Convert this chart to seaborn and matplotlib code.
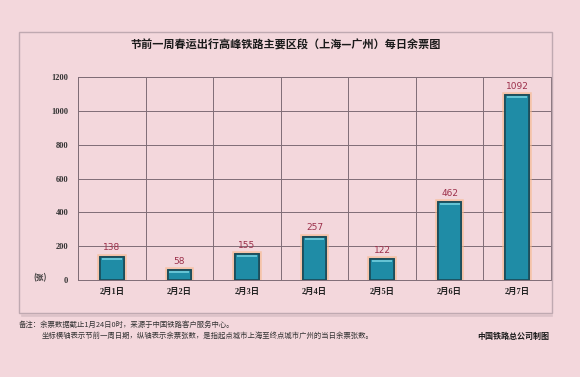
import numpy as np
import pandas as pd
import matplotlib
matplotlib.use("Agg")
import matplotlib.pyplot as plt
import matplotlib.patheffects as pe
from matplotlib.patches import Rectangle
from matplotlib.ticker import FixedLocator
import seaborn as sns

# ---- data ----
dates = ["2月1日", "2月2日", "2月3日", "2月4日", "2月5日", "2月6日", "2月7日"]
tickets = [138, 58, 155, 257, 122, 462, 1092]
y_ticks = [0, 200, 400, 600, 800, 1000, 1200]

title = "节前一周春运出行高峰铁路主要区段（上海—广州）每日余票图"
note1 = "备注：余票数据截止1月24日0时，来源于中国铁路客户服务中心。"
note2 = "坐标横轴表示节前一周日期，纵轴表示余票张数，是指起点城市上海至终点城市广州的当日余票张数。"
credit = "中国铁路总公司制图"
unit = "(张)"

BG = "#f3d7dc"
GRID = "#7f6c76"
BAR = "#1f8ca6"
EDGE = "#1b4b58"
VAL = "#9c2f4a"

sns.set_theme(style="white")
plt.rcParams["font.family"] = ["Noto Sans CJK SC", "DejaVu Sans"]

fig = plt.figure(figsize=(5.8, 3.77), dpi=100, facecolor=BG)
ax = fig.add_axes([78 / 580, 1 - 280 / 377, (551 - 78) / 580, (280 - 77) / 377])
ax.set_facecolor(BG)

df = pd.DataFrame({"date": dates, "tickets": tickets})
sns.barplot(data=df, x="date", y="tickets", color=BAR, width=0.35,
            edgecolor=EDGE, linewidth=1.2, saturation=1, ax=ax, zorder=3)

for p in ax.patches:
    p.set_path_effects([pe.withStroke(linewidth=4, foreground="#f6b88c", alpha=0.65), pe.Normal()])
    x0, w, h = p.get_x(), p.get_width(), p.get_height()
    # light highlight stripe near the top of each bar
    ax.plot([x0 + w * 0.08, x0 + w * 0.92], [h - 12, h - 12], color="#6cc9da",
            lw=1.3, zorder=4, solid_capstyle="butt")

ax.set_ylim(0, 1200)
ax.set_xlim(-0.5, len(dates) - 0.5)
ax.set_yticks(y_ticks)
ax.set_yticklabels([str(v) for v in y_ticks], family=["Liberation Serif"],
                   fontweight="bold", fontsize=6, color="#333333")
ax.set_xticks(range(len(dates)))
ax.set_xticklabels(dates, family=["Liberation Serif", "Noto Sans CJK SC"],
                   fontweight="bold", fontsize=6, color="#222222")
ax.tick_params(axis="both", length=0)
ax.tick_params(axis="x", pad=6)
ax.tick_params(axis="y", pad=7)
ax.set_xlabel("")
ax.set_ylabel("")

ax.xaxis.set_minor_locator(FixedLocator(np.arange(-0.5, len(dates), 1.0)))
ax.grid(which="minor", axis="x", color=GRID, lw=0.7, zorder=1)
ax.grid(which="major", axis="y", color=GRID, lw=0.7, zorder=1)
for s in ax.spines.values():
    s.set_color(GRID)
    s.set_linewidth(0.7)

for i, v in enumerate(tickets):
    ax.annotate(str(v), (i, v), xytext=(0, 3), textcoords="offset points",
                ha="center", va="bottom", fontsize=6.5, color=VAL,
                family=["DejaVu Sans"], zorder=5)

# outer frame
fig.patches.append(Rectangle((19 / 580, 1 - 313 / 377), (552 - 19) / 580, (313 - 32) / 377,
                             transform=fig.transFigure, fill=False, edgecolor="#bfa9b1",
                             lw=1.0, zorder=0))
fig.patches.append(Rectangle((22 / 580, 1 - 315.5 / 377), (552 - 22) / 580, 0.001,
                             transform=fig.transFigure, fill=False, edgecolor="#dcc2c8",
                             lw=1.2, zorder=0))

fig.text(0.493, 1 - 45 / 377, title, ha="center", va="center", fontsize=8,
         fontweight="bold", color="#1a1a1a")
fig.text(40 / 580, 1 - 278 / 377, unit, ha="center", va="center", fontsize=5.5,
         color="#333333", fontweight="bold")
fig.text(19 / 580, 1 - 325 / 377, note1, ha="left", va="center", fontsize=5.3, color="#333333")
fig.text(42 / 580, 1 - 336 / 377, note2, ha="left", va="center", fontsize=5.3, color="#333333")
fig.text(549 / 580, 1 - 336 / 377, credit, ha="right", va="center", fontsize=5.8,
         fontweight="bold", color="#1a1a1a")

fig.savefig("out.png", dpi=100, facecolor=BG)
